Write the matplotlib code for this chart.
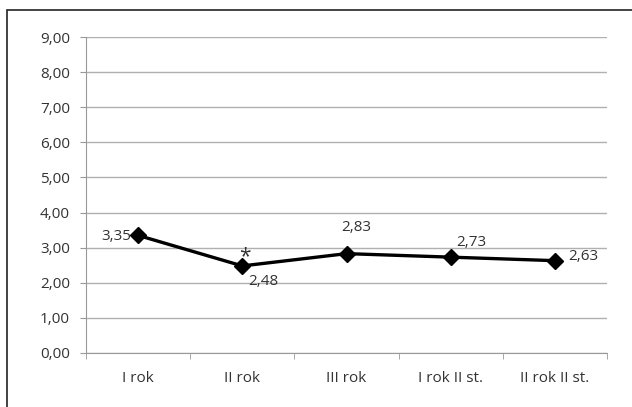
import matplotlib
matplotlib.use("Agg")
import matplotlib.pyplot as plt
from matplotlib.patches import Rectangle

categories = ["I rok", "II rok", "III rok", "I rok II st.", "II rok II st."]
values = [3.35, 2.48, 2.83, 2.73, 2.63]
yticks = [0, 1, 2, 3, 4, 5, 6, 7, 8, 9]
# label offsets in pixels (dx, dy, ha)
label_offsets = [(-7, -1, "right"), (6, -16, "left"), (10, 26, "center"),
                 (21, 15, "center"), (13, 4, "left")]

plt.rcParams['font.family'] = ['Open Sans', 'DejaVu Sans']
FS = 11

fig = plt.figure(figsize=(6.32, 4.07), dpi=100)
ax = fig.add_axes([86/632, 1 - 353/407, (607-86)/632, (353-37)/407])

# outer frame (cropped on right/bottom)
fig.patches.append(Rectangle((7/632, -0.1), 2.0, (407-10)/407 + 0.1,
                             transform=fig.transFigure, fill=False,
                             edgecolor='#222222', linewidth=1.2))

x = list(range(len(categories)))
ax.plot(x, values, color='black', linewidth=2.4, marker='D', markersize=8,
        zorder=3)

for xi, v, (dx, dy, ha) in zip(x, values, label_offsets):
    ax.annotate(f"{v:.2f}".replace(".", ","), (xi, v), xytext=(dx, dy),
                textcoords='offset pixels', ha=ha, va='center', fontsize=FS,
                color='#333333')
ax.annotate("*", (1, values[1]), xytext=(3, 9), textcoords='offset pixels',
            ha='center', va='center', fontsize=15, color='#333333')

ax.set_xlim(-0.5, len(categories) - 0.5)
ax.set_ylim(0, 9)
ax.set_yticks(yticks)
ax.set_yticklabels([f"{t:.2f}".replace(".", ",") for t in yticks],
                   fontsize=FS, color='#333333')
ax.set_xticks(x)
ax.set_xticklabels(categories, fontsize=FS, color='#333333')
ax.tick_params(axis='x', length=0, pad=13)
ax.set_xticks([i - 0.5 for i in range(len(categories) + 1)], minor=True)
ax.tick_params(axis='x', which='minor', length=4.5, color='#999999')
ax.tick_params(axis='y', length=4.5, color='#999999', pad=7)

ax.grid(axis='y', color='#b0b0b0', linewidth=1)
ax.set_axisbelow(True)
for s in ['top', 'right']:
    ax.spines[s].set_visible(False)
ax.spines['left'].set_color('#999999')
ax.spines['bottom'].set_color('#999999')

fig.savefig("out.png", dpi=100)
